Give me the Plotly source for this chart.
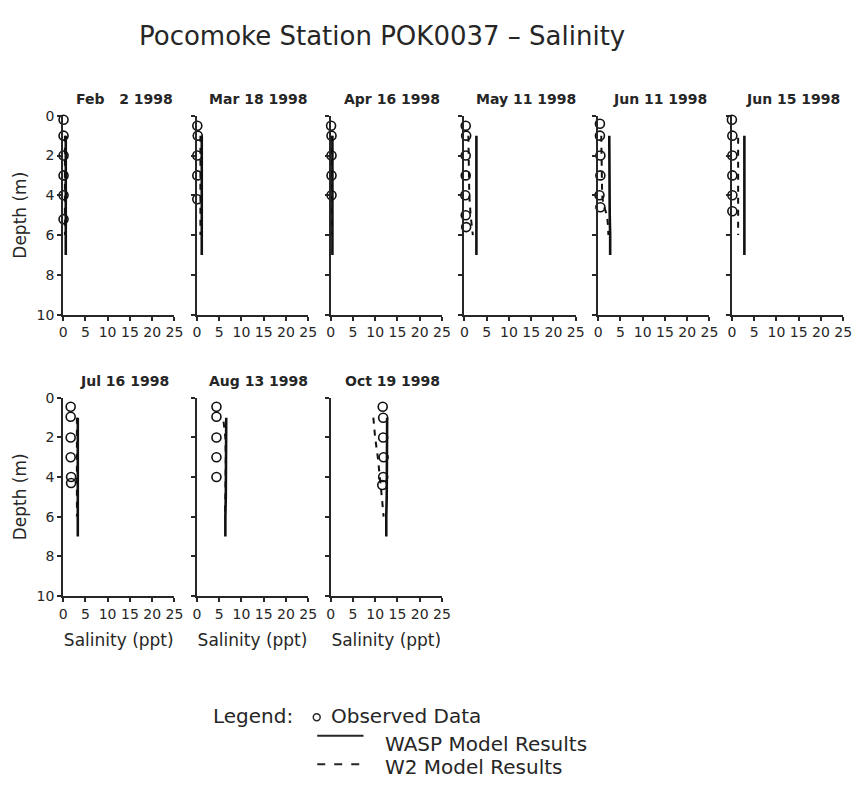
import plotly.graph_objects as go

W, H = 866, 785

# ---------------- data ----------------
dates = ["Feb  2 1998", "Mar 18 1998", "Apr 16 1998", "May 11 1998", "Jun 11 1998",
         "Jun 15 1998", "Jul 16 1998", "Aug 13 1998", "Oct 19 1998"]

x_ticks = [0, 5, 10, 15, 20, 25]
y_ticks = [0, 2, 4, 6, 8, 10]

obs_depth = [
    [0.2, 1.0, 2.0, 3.0, 4.0, 5.2],
    [0.5, 1.0, 2.0, 3.0, 4.2],
    [0.5, 1.0, 2.0, 3.0, 4.0],
    [0.5, 1.0, 2.0, 3.0, 4.0, 5.0, 5.6],
    [0.4, 1.0, 2.0, 3.0, 4.0, 4.6],
    [0.2, 1.0, 2.0, 3.0, 4.0, 4.8],
    [0.45, 0.95, 2.0, 3.0, 4.0, 4.3],
    [0.45, 0.95, 2.0, 3.0, 4.0],
    [0.45, 1.0, 2.0, 3.0, 4.0, 4.4],
]
obs_sal = [
    [0.1, 0.1, 0.1, 0.1, 0.1, 0.1],
    [0.1, 0.2, 0.1, 0.1, 0.1],
    [0.1, 0.2, 0.2, 0.2, 0.2],
    [0.3, 0.4, 0.3, 0.3, 0.2, 0.3, 0.4],
    [0.4, 0.4, 0.5, 0.5, 0.3, 0.5],
    [0.0, 0.1, 0.1, 0.1, 0.1, 0.1],
    [1.7, 1.7, 1.7, 1.7, 1.8, 1.8],
    [4.4, 4.4, 4.4, 4.4, 4.4],
    [11.7, 11.8, 11.8, 11.9, 11.8, 11.6],
]

wasp_depth = [1.0, 2.0, 3.0, 4.0, 5.0, 6.0, 7.0]
wasp_sal = [
    [0.6, 0.6, 0.6, 0.6, 0.6, 0.6, 0.6],
    [1.1, 1.1, 1.1, 1.1, 1.1, 1.1, 1.1],
    [0.4, 0.4, 0.4, 0.4, 0.4, 0.4, 0.4],
    [2.7, 2.7, 2.7, 2.7, 2.7, 2.7, 2.7],
    [2.5, 2.5, 2.5, 2.5, 2.6, 2.7, 2.7],
    [2.8, 2.8, 2.8, 2.8, 2.8, 2.8, 2.8],
    [3.3, 3.3, 3.3, 3.3, 3.3, 3.3, 3.3],
    [6.6, 6.6, 6.6, 6.5, 6.5, 6.4, 6.4],
    [12.7, 12.7, 12.7, 12.6, 12.6, 12.5, 12.5],
]

w2_depth = [
    [1.0, 2.0, 3.0, 4.0, 5.0, 6.0],
    [1.0, 2.0, 3.0, 4.0, 5.0, 6.0],
    [1.0, 2.0, 3.0, 4.0, 5.0, 6.0],
    [1.0, 2.0, 3.0, 4.0, 5.0, 6.0],
    [1.0, 2.0, 3.0, 4.0, 4.5, 5.0, 5.5, 6.0],
    [1.1, 2.0, 3.0, 4.0, 5.0, 6.0],
    [1.0, 2.0, 3.0, 4.0, 5.0, 6.0],
    [1.2, 2.0, 3.0, 4.0, 5.0, 6.0],
    [1.0, 2.0, 3.0, 4.0, 5.0, 6.0],
]
w2_sal = [
    [0.4, 0.4, 0.4, 0.4, 0.4, 0.4],
    [0.8, 0.8, 0.8, 0.8, 0.8, 0.8],
    [0.2, 0.2, 0.2, 0.2, 0.2, 0.2],
    [0.9, 1.0, 1.0, 1.1, 1.4, 1.9],
    [0.7, 0.8, 0.8, 0.9, 1.2, 2.0, 2.2, 2.3],
    [1.4, 1.4, 1.4, 1.4, 1.4, 1.4],
    [3.1, 3.1, 3.1, 3.1, 3.1, 3.1],
    [6.0, 6.4, 6.5, 6.5, 6.4, 6.3],
    [9.6, 10.0, 10.6, 11.1, 11.5, 11.9],
]

title_text = "Pocomoke Station POK0037 \u2013 Salinity"
x_title = "Salinity (ppt)"
y_title = "Depth (m)"
legend_labels = ["Observed Data", "WASP Model Results", "W2 Model Results"]

# ---------------- layout helpers ----------------
FONT = "DejaVu Sans"
INK = "#262626"

def px_x(p):
    return p / W

def px_y(p):
    return 1 - p / H

col_x0 = [60 + c * 135.8 for c in range(6)]
panel_w = 113
rows_y = [(110, 313), (398, 600)]
title_y = [93, 381]

fig = go.Figure()
layout = dict(
    width=W, height=H,
    margin=dict(l=0, r=0, t=0, b=0),
    paper_bgcolor="white", plot_bgcolor="white",
    showlegend=False,
    font=dict(family=FONT, color=INK, size=14),
)
annotations = []

for i, d in enumerate(dates):
    r, c = divmod(i, 6)
    x0 = col_x0[c]
    x1 = x0 + panel_w
    yt, yb = rows_y[r]
    n = i + 1
    xa = "xaxis" if n == 1 else f"xaxis{n}"
    ya = "yaxis" if n == 1 else f"yaxis{n}"
    xr = "x" if n == 1 else f"x{n}"
    yr = "y" if n == 1 else f"y{n}"

    layout[xa] = dict(
        domain=[px_x(x0), px_x(x1)], anchor=yr, range=[0, 25],
        tickvals=x_ticks, ticktext=[str(t) for t in x_ticks],
        showline=True, linecolor=INK, linewidth=2,
        ticks="outside", ticklen=4, tickwidth=1.5, tickcolor=INK,
        showgrid=False, zeroline=False,
        tickfont=dict(family=FONT, size=14, color=INK),
        title=dict(text=x_title if r == 1 else "", standoff=14,
                   font=dict(family=FONT, size=17, color=INK)),
    )
    layout[ya] = dict(
        domain=[px_y(yb), px_y(yt)], anchor=xr, range=[10, 0],
        tickvals=y_ticks, showticklabels=(c == 0),
        showline=True, linecolor=INK, linewidth=2,
        ticks="outside", ticklen=4, tickwidth=1.5, tickcolor=INK,
        showgrid=False, zeroline=False,
        tickfont=dict(family=FONT, size=14, color=INK),
        title=dict(text=y_title if c == 0 else "", standoff=6,
                   font=dict(family=FONT, size=17, color=INK)),
    )

    fig.add_trace(go.Scatter(
        x=wasp_sal[i], y=wasp_depth, mode="lines", xaxis=xr, yaxis=yr,
        line=dict(color="#111", width=2.6), name=legend_labels[1]))
    fig.add_trace(go.Scatter(
        x=w2_sal[i], y=w2_depth[i], mode="lines", xaxis=xr, yaxis=yr,
        line=dict(color="#111", width=2, dash="6px,6px"), name=legend_labels[2]))
    fig.add_trace(go.Scatter(
        x=obs_sal[i], y=obs_depth[i], mode="markers", xaxis=xr, yaxis=yr,
        cliponaxis=False,
        marker=dict(symbol="circle-open", size=9, color="#111", line=dict(width=1.6)),
        name=legend_labels[0]))

    annotations.append(dict(
        text=f"<b>{d.replace('  ', '&nbsp;&nbsp;&nbsp;')}</b>", xref="paper", yref="paper",
        x=px_x((x0 + x1) / 2 + 6), y=px_y(title_y[r]), xanchor="center", yanchor="middle",
        showarrow=False, font=dict(family=FONT, size=14, color=INK)))

# title
annotations.append(dict(
    text=title_text, xref="paper", yref="paper", x=px_x(384), y=px_y(29),
    xanchor="center", yanchor="middle", showarrow=False,
    font=dict(family=FONT, size=26, color=INK)))

# legend (drawn manually)
def legend_text(txt, x, y):
    annotations.append(dict(text=txt, xref="paper", yref="paper", x=px_x(x), y=px_y(y),
                            xanchor="left", yanchor="middle", showarrow=False,
                            font=dict(family=FONT, size=20, color=INK)))

legend_text("Legend:", 210, 723)
legend_text(legend_labels[0], 330, 723)
legend_text(legend_labels[1], 385, 751)
legend_text(legend_labels[2], 385, 775)

shapes = [
    dict(type="circle", xref="paper", yref="paper",
         x0=px_x(314), x1=px_x(321), y0=px_y(727.5), y1=px_y(720.5),
         line=dict(color=INK, width=1.5)),
    dict(type="line", xref="paper", yref="paper",
         x0=px_x(318), x1=px_x(365), y0=px_y(743), y1=px_y(743),
         line=dict(color=INK, width=2)),
    dict(type="line", xref="paper", yref="paper",
         x0=px_x(318), x1=px_x(365), y0=px_y(772), y1=px_y(772),
         line=dict(color=INK, width=2, dash="8px,9px")),
]

layout["annotations"] = annotations
layout["shapes"] = shapes
fig.update_layout(**layout)

fig.write_html("out.html",
               config={"displayModeBar": False},
               post_script="document.body.style.margin='0px';document.body.style.overflow='hidden';")
